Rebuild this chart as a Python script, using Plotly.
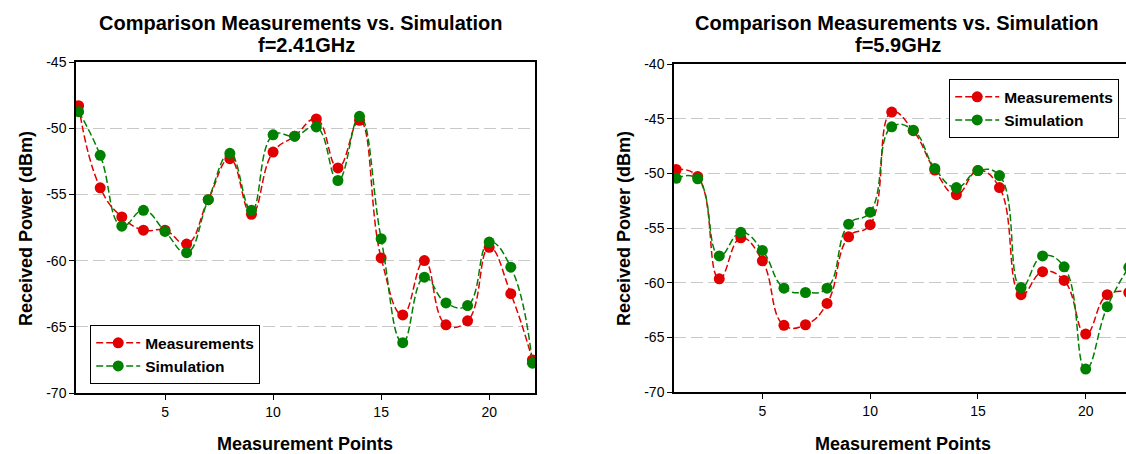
import plotly.graph_objects as go

points = list(range(1, 23))

meas_241 = [-48.3, -54.5, -56.7, -57.7, -57.7, -58.75, -55.4, -52.3, -56.5, -51.8, -50.6,
            -49.3, -53.0, -49.4, -59.8, -64.1, -60.0, -64.85, -64.55, -59.0, -62.5, -67.5]
sim_241 = [-48.75, -52.05, -57.4, -56.2, -57.8, -59.4, -55.4, -51.9, -56.2, -50.5, -50.6,
           -49.9, -53.95, -49.1, -58.35, -66.2, -61.25, -63.2, -63.4, -58.6, -60.5, -67.75]

meas_59 = [-49.65, -50.3, -59.65, -55.9, -58.0, -63.9, -63.85, -61.9, -55.8, -54.7, -44.4,
           -46.1, -49.7, -51.95, -49.75, -51.3, -61.1, -59.0, -59.8, -64.7, -61.1, -60.9]
sim_59 = [-50.45, -50.5, -57.55, -55.4, -57.05, -60.5, -60.9, -60.5, -54.65, -53.55, -45.75,
          -46.05, -49.55, -51.3, -49.75, -50.2, -60.45, -57.55, -58.55, -67.9, -62.2, -58.6]

x_ticks = [5, 10, 15, 20]
y_ticks_241 = [-45, -50, -55, -60, -65, -70]
y_ticks_59 = [-40, -45, -50, -55, -60, -65, -70]

RED = "#e00000"
GREEN = "#008000"
FONT = "Arial, Liberation Sans, sans-serif"
W, H = 1126, 454


def px(x):
    return x / W


def py(y):
    return 1 - y / H


fig = go.Figure()


def add_series(x, y, name, color, xa, ya, legend):
    fig.add_trace(go.Scatter(
        x=x, y=y, name=name, mode="lines+markers",
        line=dict(color=color, width=1.5, dash="7px,3px", shape="spline", smoothing=1.3),
        marker=dict(color=color, size=11),
        xaxis=xa, yaxis=ya, legend=legend,
    ))


add_series(points, meas_241, "Measurements", RED, "x", "y", "legend")
add_series(points, sim_241, "Simulation", GREEN, "x", "y", "legend")
add_series(points, meas_59, "Measurements", RED, "x2", "y2", "legend2")
add_series(points, sim_59, "Simulation", GREEN, "x2", "y2", "legend2")

axis_common = dict(
    showline=True, linecolor="black", linewidth=1.5,
    ticks="outside", ticklen=5, tickwidth=1.2, tickcolor="black",
    tickfont=dict(family=FONT, size=14, color="black"),
    zeroline=False, automargin=False,
)

legend_common = dict(
    xanchor="left", yanchor="top",
    bgcolor="white", bordercolor="black", borderwidth=1.2,
    font=dict(family=FONT, size=15.5, color="black", weight="bold"),
    itemwidth=44,
)

fig.update_layout(
    width=W, height=H, autosize=False,
    margin=dict(l=0, r=0, t=0, b=0, autoexpand=False),
    paper_bgcolor="white", plot_bgcolor="white",
    font=dict(family=FONT, color="black"),
    xaxis=dict(domain=[px(76), px(535)], range=[0.88, 22.12], tickvals=x_ticks,
               mirror=True, showgrid=False, anchor="y", **axis_common),
    yaxis=dict(domain=[py(393), py(62)], range=[-70, -45], tickvals=y_ticks_241,
               ticktext=[str(v) for v in y_ticks_241],
               mirror=True, showgrid=True, gridcolor="#c8c8c8", gridwidth=1.3,
               griddash="12px,5px", anchor="x", **axis_common),
    xaxis2=dict(domain=[px(674), 1.0], range=[0.9, 21.87], tickvals=x_ticks,
                mirror=True, showgrid=False, anchor="y2", **axis_common),
    yaxis2=dict(domain=[py(392), py(64)], range=[-70, -40], tickvals=y_ticks_59,
                ticktext=[str(v) for v in y_ticks_59],
                mirror=False, showgrid=True, gridcolor="#c8c8c8", gridwidth=1.3,
                griddash="12px,5px", anchor="x2", **axis_common),
    legend=dict(x=px(90), y=py(325), **legend_common),
    legend2=dict(x=px(949), y=py(79), **legend_common),
    showlegend=True,
    hovermode=False,
)


def ann(text, x, y, size=20, angle=0):
    fig.add_annotation(text=text, x=px(x), y=py(y), xref="paper", yref="paper",
                       showarrow=False, textangle=angle, xanchor="center", yanchor="middle",
                       font=dict(family=FONT, size=size, color="black", weight="bold"))


ann("Comparison Measurements vs. Simulation", 300, 23)
ann("f=2.41GHz", 306, 45)
ann("Comparison Measurements vs. Simulation", 896, 23)
ann("f=5.9GHz", 898, 45)
ann("Measurement Points", 305, 444, size=18)
ann("Measurement Points", 903, 444, size=18)
ann("Received Power (dBm)", 26, 229, size=18, angle=-90)
ann("Received Power (dBm)", 624, 229, size=18, angle=-90)

fig.write_html(
    "out.html",
    config={"displayModeBar": False},
    post_script="document.body.style.margin='0px';document.body.style.overflow='hidden';",
)
